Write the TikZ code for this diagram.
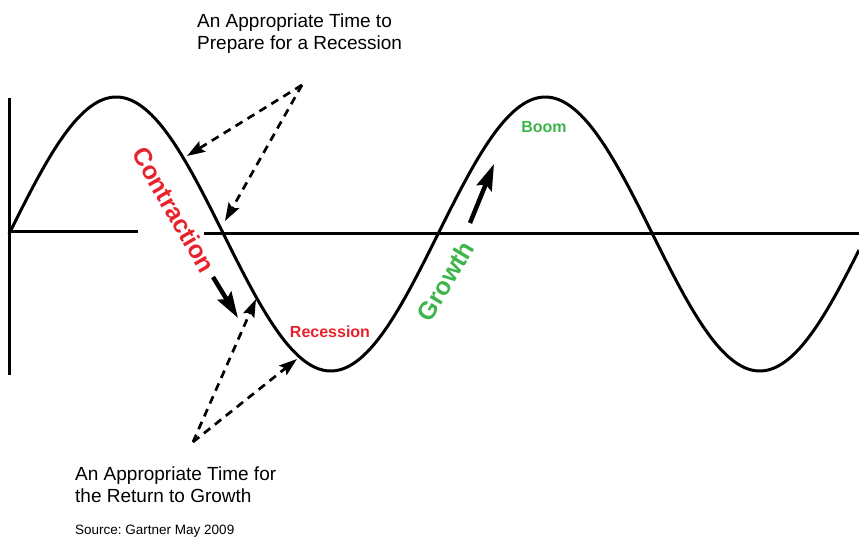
\documentclass[tikz,border=0pt]{standalone}
\usepackage{fontspec}
\setmainfont{Liberation Sans}
\frenchspacing
\usetikzlibrary{arrows.meta}
\definecolor{cyred}{HTML}{E8222B}
\definecolor{cygreen}{HTML}{3DB54A}
\tikzset{
  wave/.style={line width=3pt, draw=black},
  axis/.style={line width=3pt, draw=black},
  hint/.style={-{Stealth[length=18pt,width=12pt,inset=3pt]}, line width=2.7pt, dash pattern=on 8pt off 6pt},
  trend/.style={-{Stealth[length=26pt,width=16pt,inset=4pt]}, line width=4.5pt},
  note/.style={font=\fontsize{19}{22}\selectfont, align=left, anchor=base west, inner sep=0pt},
  phase/.style={font=\fontsize{25}{30}\selectfont\bfseries, inner sep=0pt},
  stage/.style={font=\fontsize{16}{19}\selectfont\bfseries, inner sep=0pt},
}

\begin{document}
\begin{tikzpicture}[x=1pt, y=-1pt]
  \useasboundingbox (0,0) rectangle (859,537);
  % Achsen
  \draw[axis] (9,98) -- (9,375);
  \draw[axis] (9,232) -- (138,232);
  \draw[axis] (204,234) -- (859,234);
  % Konjunkturzyklus
  \draw[wave] plot[domain=9:859, samples=300, smooth] (\x, {234-137*sin((\x-9)/429*360)});
  % Hinweise (base = letzte Zeile)
  \node[note] (prepnote) at (197,50) {An Appropriate Time to\\Prepare for a Recession};
  \node[note] (grownote) at (75,502) {An Appropriate Time for\\the Return to Growth};
  \node[note, font=\fontsize{13.5}{16}\selectfont] (source) at (75,534) {Source: Gartner May 2009};
  \coordinate (prepsrc) at (302,85);
  \coordinate (prepA) at (187,156);
  \coordinate (prepB) at (225,221);
  \draw[hint] (prepsrc) -- (prepA);
  \draw[hint] (prepsrc) -- (prepB);
  \coordinate (growsrc) at (193,442);
  \coordinate (growA) at (256,299);
  \coordinate (growB) at (297,359);
  \draw[hint] (growsrc) -- (growA);
  \draw[hint] (growsrc) -- (growB);
  % Phasen
  \node[phase, text=cyred, rotate=-60] (contraction) at (174,210) {Contraction};
  \node[phase, text=cygreen, rotate=59] (growth) at (445,281) {Growth};
  \node[stage, text=cyred] (recession) at (330,332) {Recession};
  \node[stage, text=cygreen] (boom) at (544,127) {Boom};
  \coordinate (contrA) at (213,277);
  \coordinate (contrB) at (238,318);
  \draw[trend] (contrA) -- (contrB);
  \coordinate (growthA) at (470,223);
  \coordinate (growthB) at (494,164);
  \draw[trend] (growthA) -- (growthB);
\end{tikzpicture}
\end{document}
